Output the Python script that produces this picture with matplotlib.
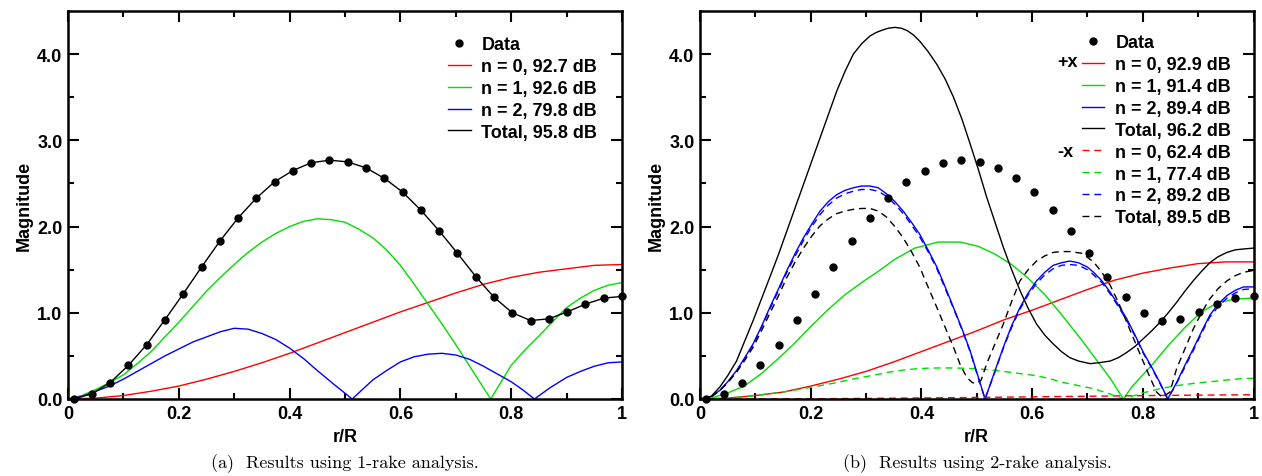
import numpy as np
import matplotlib.pyplot as plt

plt.rcParams['font.family'] = ['Liberation Sans', 'DejaVu Sans']
plt.rcParams['font.weight'] = 'bold'

# measured data (same in both panels)
data_x = [0.01, 0.043, 0.076, 0.109, 0.142, 0.175, 0.208, 0.241, 0.274, 0.307, 0.340,
          0.373, 0.406, 0.439, 0.472, 0.505, 0.538, 0.571, 0.604, 0.637, 0.670, 0.703,
          0.736, 0.769, 0.802, 0.835, 0.868, 0.901, 0.934, 0.967, 1.0]
data_y = [0.0, 0.06, 0.19, 0.39, 0.63, 0.92, 1.22, 1.53, 1.83, 2.10, 2.33, 2.52, 2.65,
          2.74, 2.77, 2.75, 2.68, 2.56, 2.40, 2.19, 1.95, 1.69, 1.42, 1.18, 1.00, 0.91,
          0.93, 1.01, 1.10, 1.17, 1.19]

# (a) 1-rake analysis: (r/R, magnitude) pairs
a_n0 = [(0, 0), (0.05, 0.01), (0.1, 0.04), (0.15, 0.09), (0.2, 0.15), (0.25, 0.23),
        (0.3, 0.32), (0.35, 0.42), (0.4, 0.53), (0.45, 0.65), (0.5, 0.77), (0.55, 0.89),
        (0.6, 1.01), (0.65, 1.12), (0.7, 1.23), (0.75, 1.33), (0.8, 1.41), (0.85, 1.47),
        (0.9, 1.51), (0.95, 1.55), (1.0, 1.56)]
a_n1 = [(0, 0), (0.025, 0.04), (0.05, 0.11), (0.075, 0.19), (0.1, 0.28), (0.125, 0.41),
        (0.15, 0.55), (0.175, 0.72), (0.2, 0.89), (0.225, 1.07), (0.25, 1.25), (0.275, 1.41),
        (0.3, 1.56), (0.325, 1.70), (0.35, 1.82), (0.375, 1.92), (0.4, 2.00), (0.425, 2.06),
        (0.45, 2.09), (0.475, 2.08), (0.5, 2.05), (0.525, 1.97), (0.55, 1.87), (0.575, 1.73),
        (0.6, 1.55), (0.625, 1.33), (0.65, 1.10), (0.675, 0.87), (0.7, 0.63), (0.73, 0.33),
        (0.763, 0.0), (0.8, 0.39), (0.825, 0.57), (0.85, 0.73), (0.875, 0.90), (0.9, 1.06),
        (0.925, 1.17), (0.95, 1.26), (0.975, 1.32), (1.0, 1.35)]
a_n2 = [(0, 0), (0.025, 0.03), (0.05, 0.09), (0.075, 0.15), (0.1, 0.23), (0.125, 0.32),
        (0.15, 0.41), (0.175, 0.50), (0.2, 0.58), (0.225, 0.66), (0.25, 0.72), (0.275, 0.78),
        (0.3, 0.82), (0.325, 0.81), (0.35, 0.76), (0.375, 0.69), (0.4, 0.59), (0.425, 0.47),
        (0.45, 0.33), (0.48, 0.17), (0.513, 0.0), (0.55, 0.22), (0.575, 0.33), (0.6, 0.43),
        (0.625, 0.49), (0.65, 0.52), (0.675, 0.53), (0.7, 0.51), (0.725, 0.46), (0.75, 0.38),
        (0.775, 0.29), (0.8, 0.20), (0.82, 0.11), (0.842, 0.0), (0.87, 0.13), (0.9, 0.25),
        (0.925, 0.32), (0.95, 0.38), (0.975, 0.42), (1.0, 0.43)]
a_labels = ['Data', 'n = 0, 92.7 dB', 'n = 1, 92.6 dB', 'n = 2, 79.8 dB', 'Total, 95.8 dB']

# (b) 2-rake analysis, +x rake
bp_n0 = [(0, 0), (0.05, 0.01), (0.1, 0.04), (0.15, 0.08), (0.2, 0.15), (0.25, 0.23),
         (0.3, 0.32), (0.35, 0.43), (0.4, 0.55), (0.45, 0.67), (0.5, 0.79), (0.55, 0.92),
         (0.6, 1.03), (0.65, 1.15), (0.7, 1.27), (0.75, 1.38), (0.8, 1.46), (0.85, 1.52),
         (0.9, 1.57), (0.95, 1.59), (1.0, 1.59)]
bp_n1 = [(0, 0), (0.02, 0.01), (0.05, 0.07), (0.08, 0.15), (0.11, 0.29), (0.14, 0.46),
         (0.17, 0.64), (0.2, 0.84), (0.232, 1.04), (0.262, 1.21), (0.292, 1.35),
         (0.322, 1.48), (0.352, 1.62), (0.388, 1.75), (0.43, 1.82), (0.47, 1.82),
         (0.503, 1.77), (0.533, 1.68), (0.563, 1.56), (0.593, 1.40), (0.623, 1.21),
         (0.653, 0.98), (0.69, 0.68), (0.74, 0.25), (0.765, 0.0), (0.78, 0.14), (0.816, 0.39),
         (0.846, 0.62), (0.876, 0.83), (0.906, 1.01), (0.936, 1.12), (0.967, 1.16),
         (1.0, 1.17)]
bp_n2 = [(0, 0), (0.02, 0.03), (0.036, 0.10), (0.05, 0.20), (0.066, 0.33), (0.08, 0.47),
         (0.096, 0.64), (0.111, 0.84), (0.126, 1.06), (0.142, 1.28), (0.157, 1.49),
         (0.172, 1.69), (0.187, 1.87), (0.202, 2.03), (0.217, 2.18), (0.232, 2.29),
         (0.247, 2.37), (0.262, 2.42), (0.277, 2.45), (0.292, 2.47), (0.307, 2.47),
         (0.322, 2.45), (0.337, 2.38), (0.352, 2.29), (0.367, 2.18), (0.382, 2.05),
         (0.397, 1.91), (0.412, 1.73), (0.428, 1.53), (0.443, 1.30), (0.458, 1.06),
         (0.473, 0.82), (0.488, 0.56), (0.502, 0.27), (0.515, 0.0), (0.532, 0.31),
         (0.548, 0.60), (0.563, 0.85), (0.578, 1.06), (0.593, 1.23), (0.608, 1.37),
         (0.623, 1.47), (0.638, 1.55), (0.653, 1.58), (0.668, 1.60), (0.684, 1.58),
         (0.70, 1.53), (0.711, 1.47), (0.726, 1.37), (0.741, 1.24), (0.756, 1.09),
         (0.771, 0.93), (0.786, 0.74), (0.801, 0.54), (0.816, 0.37), (0.831, 0.19),
         (0.845, 0.0), (0.861, 0.19), (0.876, 0.39), (0.891, 0.58), (0.906, 0.78),
         (0.921, 0.97), (0.936, 1.10), (0.952, 1.20), (0.967, 1.26), (0.982, 1.30),
         (1.0, 1.30)]
bp_tot = [(0, 0), (0.01, 0.0), (0.02, 0.03), (0.036, 0.14), (0.05, 0.27), (0.066, 0.44),
          (0.08, 0.66), (0.096, 0.91), (0.111, 1.16), (0.126, 1.41), (0.142, 1.68),
          (0.157, 1.95), (0.172, 2.22), (0.187, 2.49), (0.202, 2.76), (0.217, 3.03),
          (0.232, 3.30), (0.247, 3.57), (0.262, 3.80), (0.277, 4.0), (0.292, 4.12),
          (0.307, 4.21), (0.318, 4.25), (0.33, 4.28), (0.34, 4.30), (0.352, 4.31),
          (0.364, 4.30), (0.375, 4.27), (0.386, 4.22), (0.397, 4.15), (0.412, 4.03),
          (0.428, 3.88), (0.443, 3.71), (0.458, 3.50), (0.473, 3.25), (0.488, 2.96),
          (0.503, 2.66), (0.518, 2.34), (0.533, 2.05), (0.548, 1.76), (0.563, 1.50),
          (0.578, 1.26), (0.593, 1.05), (0.608, 0.87), (0.623, 0.74), (0.638, 0.64),
          (0.653, 0.55), (0.668, 0.48), (0.684, 0.44), (0.705, 0.41), (0.72, 0.42),
          (0.741, 0.44), (0.756, 0.48), (0.771, 0.54), (0.786, 0.61), (0.801, 0.70),
          (0.816, 0.79), (0.831, 0.89), (0.846, 1.00), (0.861, 1.12), (0.876, 1.25),
          (0.891, 1.37), (0.906, 1.48), (0.921, 1.58), (0.936, 1.65), (0.952, 1.70),
          (0.967, 1.73), (0.982, 1.74), (1.0, 1.75)]

# (b) 2-rake analysis, -x rake
bm_n0 = [(0, 0), (0.1, 0.0), (0.2, 0.003), (0.3, 0.007), (0.4, 0.012), (0.5, 0.018),
         (0.6, 0.025), (0.7, 0.032), (0.8, 0.039), (0.9, 0.045), (1.0, 0.05)]
bm_n1 = [(0, 0), (0.05, 0.01), (0.1, 0.04), (0.15, 0.08), (0.187, 0.12), (0.217, 0.155),
         (0.247, 0.19), (0.275, 0.23), (0.3, 0.26), (0.325, 0.29), (0.345, 0.315),
         (0.367, 0.335), (0.39, 0.35), (0.41, 0.357), (0.435, 0.36), (0.458, 0.36),
         (0.48, 0.356), (0.5, 0.35), (0.525, 0.337), (0.548, 0.32), (0.578, 0.295),
         (0.608, 0.27), (0.63, 0.24), (0.65, 0.20), (0.68, 0.16), (0.711, 0.12), (0.74, 0.06),
         (0.765, 0.0), (0.8, 0.07), (0.831, 0.12), (0.861, 0.155), (0.891, 0.18),
         (0.921, 0.20), (0.952, 0.22), (0.976, 0.235), (1.0, 0.24)]
bm_n2 = [(0, 0), (0.02, 0.03), (0.036, 0.10), (0.05, 0.19), (0.066, 0.32), (0.08, 0.46),
         (0.096, 0.63), (0.111, 0.83), (0.126, 1.04), (0.142, 1.26), (0.157, 1.47),
         (0.172, 1.66), (0.187, 1.84), (0.202, 2.00), (0.217, 2.14), (0.232, 2.25),
         (0.247, 2.33), (0.262, 2.38), (0.277, 2.41), (0.292, 2.43), (0.307, 2.43),
         (0.322, 2.41), (0.337, 2.35), (0.352, 2.26), (0.367, 2.15), (0.382, 2.02),
         (0.397, 1.88), (0.412, 1.71), (0.428, 1.51), (0.443, 1.28), (0.458, 1.05),
         (0.473, 0.81), (0.488, 0.55), (0.502, 0.26), (0.515, 0.0), (0.532, 0.30),
         (0.548, 0.59), (0.563, 0.83), (0.578, 1.04), (0.593, 1.21), (0.608, 1.34),
         (0.623, 1.44), (0.638, 1.51), (0.653, 1.55), (0.668, 1.56), (0.684, 1.55),
         (0.70, 1.50), (0.711, 1.44), (0.726, 1.35), (0.741, 1.22), (0.756, 1.07),
         (0.771, 0.91), (0.786, 0.73), (0.801, 0.53), (0.816, 0.36), (0.831, 0.18),
         (0.845, 0.0), (0.861, 0.18), (0.876, 0.37), (0.891, 0.56), (0.906, 0.76),
         (0.921, 0.95), (0.936, 1.07), (0.952, 1.17), (0.967, 1.23), (0.982, 1.27),
         (1.0, 1.28)]
bm_tot = [(0, 0), (0.02, 0.02), (0.036, 0.10), (0.05, 0.19), (0.066, 0.31), (0.08, 0.44),
          (0.096, 0.60), (0.111, 0.79), (0.126, 0.99), (0.142, 1.20), (0.157, 1.41),
          (0.172, 1.59), (0.187, 1.75), (0.202, 1.89), (0.217, 2.01), (0.232, 2.09),
          (0.247, 2.15), (0.262, 2.18), (0.277, 2.20), (0.292, 2.21), (0.307, 2.21),
          (0.322, 2.18), (0.337, 2.11), (0.352, 2.00), (0.367, 1.87), (0.382, 1.71),
          (0.397, 1.53), (0.412, 1.30), (0.428, 1.06), (0.443, 0.83), (0.458, 0.60),
          (0.47, 0.40), (0.482, 0.25), (0.492, 0.19), (0.50, 0.18), (0.508, 0.22),
          (0.518, 0.41), (0.533, 0.64), (0.548, 0.87), (0.563, 1.13), (0.578, 1.37),
          (0.593, 1.50), (0.608, 1.60), (0.623, 1.66), (0.638, 1.70), (0.653, 1.71),
          (0.668, 1.71), (0.69, 1.69), (0.711, 1.59), (0.726, 1.47), (0.741, 1.32),
          (0.756, 1.12), (0.771, 0.89), (0.786, 0.66), (0.801, 0.43), (0.813, 0.25),
          (0.825, 0.08), (0.835, 0.02), (0.849, 0.08), (0.861, 0.35), (0.876, 0.58),
          (0.891, 0.81), (0.906, 1.00), (0.921, 1.16), (0.936, 1.28), (0.952, 1.37),
          (0.967, 1.43), (0.982, 1.47), (1.0, 1.49)]
b_labels = ['Data', 'n = 0, 92.9 dB', 'n = 1, 91.4 dB', 'n = 2, 89.4 dB', 'Total, 96.2 dB',
            'n = 0, 62.4 dB', 'n = 1, 77.4 dB', 'n = 2, 89.2 dB', 'Total, 89.5 dB']

RED, GREEN, BLUE, BLACK = '#ff0000', '#00dd00', '#0000ff', '#000000'
FS = 13
LW = 1.0
DASH = (5, 3.5)


def style(ax):
    ax.set_xlim(0, 1)
    ax.set_ylim(0, 4.5)
    ax.set_xticks([0, 0.2, 0.4, 0.6, 0.8, 1.0])
    ax.set_xticklabels(['0', '0.2', '0.4', '0.6', '0.8', '1'])
    ax.set_xticks([0.1, 0.3, 0.5, 0.7, 0.9], minor=True)
    ax.set_yticks([0, 1, 2, 3, 4])
    ax.set_yticklabels(['0.0', '1.0', '2.0', '3.0', '4.0'])
    ax.set_yticks([0.5, 1.5, 2.5, 3.5], minor=True)
    ax.tick_params(which='both', direction='in', top=True, right=True, width=1.5,
                   labelsize=FS, pad=4)
    ax.tick_params(which='major', length=8)
    ax.tick_params(which='minor', length=4.5)
    for s in ax.spines.values():
        s.set_linewidth(1.8)
    ax.set_xlabel('r/R', fontsize=FS, fontweight='bold', labelpad=5)
    ax.set_ylabel('Magnitude', fontsize=FS, fontweight='bold', labelpad=3)


def curve(ax, pts, color, dashed=False):
    xy = np.array(pts)
    kw = {'dashes': DASH} if dashed else {}
    h, = ax.plot(xy[:, 0], xy[:, 1], color=color, lw=LW, **kw)
    return h


def data_dots(ax):
    h, = ax.plot(data_x, data_y, 'o', color='black', ms=5, ls='none', clip_on=False, zorder=5)
    return h


def add_legend(ax, handles, labels, x, y):
    ax.legend(handles, labels, loc='upper left', bbox_to_anchor=(x, y), frameon=False,
              handlelength=1.25, handletextpad=0.6, labelspacing=0.27,
              borderpad=0, borderaxespad=0, numpoints=1,
              prop={'weight': 'bold', 'size': FS})


fig = plt.figure(figsize=(12.62, 4.77), dpi=100)
ax_a = fig.add_axes([68 / 1262, 77 / 477, 554 / 1262, 388 / 477])
ax_b = fig.add_axes([700 / 1262, 77 / 477, 553.5 / 1262, 388 / 477])

# panel a
h0 = curve(ax_a, a_n0, RED)
h1 = curve(ax_a, a_n1, GREEN)
h2 = curve(ax_a, a_n2, BLUE)
ht, = ax_a.plot(data_x, data_y, color=BLACK, lw=LW)
hd = data_dots(ax_a)
style(ax_a)
add_legend(ax_a, [hd, h0, h1, h2, ht], a_labels, 0.686, 0.935)

# panel b
hd = data_dots(ax_b)
p0 = curve(ax_b, bp_n0, RED)
p1 = curve(ax_b, bp_n1, GREEN)
p2 = curve(ax_b, bp_n2, BLUE)
pt = curve(ax_b, bp_tot, BLACK)
m0 = curve(ax_b, bm_n0, RED, True)
m1 = curve(ax_b, bm_n1, GREEN, True)
m2 = curve(ax_b, bm_n2, BLUE, True)
mt = curve(ax_b, bm_tot, BLACK, True)
style(ax_b)
add_legend(ax_b, [hd, p0, p1, p2, pt, m0, m1, m2, mt], b_labels, 0.690, 0.94)
ax_b.text(0.682, 0.87, '+x', transform=ax_b.transAxes, ha='right', va='center',
          fontsize=FS, fontweight='bold')
ax_b.text(0.675, 0.638, '-x', transform=ax_b.transAxes, ha='right', va='center',
          fontsize=FS, fontweight='bold')

# captions
fig.text(345 / 1262, 1 - 464 / 477, '(a)  Results using 1-rake analysis.', ha='center',
         va='center', fontsize=13, family=['cmr10', 'DejaVu Serif'], fontweight='normal')
fig.text(977 / 1262, 1 - 464 / 477, '(b)  Results using 2-rake analysis.', ha='center',
         va='center', fontsize=13, family=['cmr10', 'DejaVu Serif'], fontweight='normal')

fig.savefig('out.png', dpi=100)
